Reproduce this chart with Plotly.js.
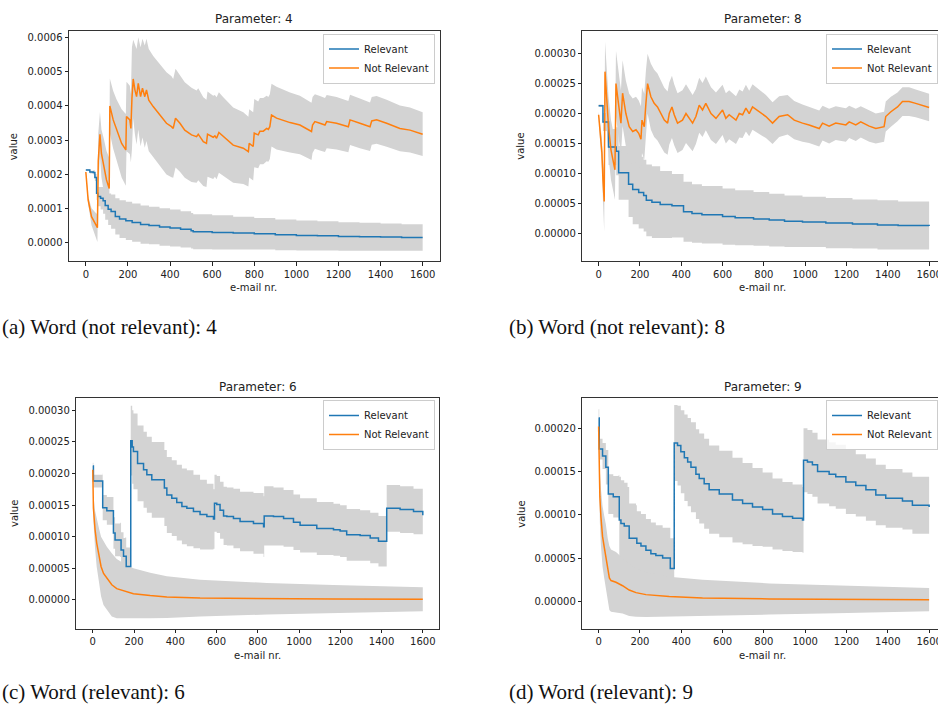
<!DOCTYPE html>
<html>
<head>
<meta charset="utf-8">
<script src="https://cdn.plot.ly/plotly-3.0.1.min.js"></script>
<style>html,body{margin:0;padding:0;background:#fff;}#chart{width:938px;height:705px;}</style>
</head>
<body>
<div id="chart"></div>
<script>
// All y values are in units of 1e-4
const UNIT = 1e-4;
const seriesNames = ["Relevant", "Not Relevant"];
const panelTitles = ["Parameter: 4", "Parameter: 8", "Parameter: 6", "Parameter: 9"];
const captions = ["(a) Word (not relevant): 4", "(b) Word (not relevant): 8", "(c) Word (relevant): 6", "(d) Word (relevant): 9"];
const xTickVals = [0, 200, 400, 600, 800, 1000, 1200, 1400, 1600];

// ---- Panel (a) Parameter 4 ----
const a_rel_x = [0, 19, 35, 43, 51, 57, 70, 82, 92, 106, 120, 140, 160, 190, 220, 260, 300, 350, 400, 450, 500, 510, 600, 700, 800, 900, 1000, 1100, 1200, 1300, 1400, 1500, 1600];
const a_rel_y = [2.12, 2.06, 2.05, 1.90, 1.44, 1.34, 1.29, 1.22, 1.08, 0.97, 0.90, 0.76, 0.68, 0.63, 0.58, 0.52, 0.49, 0.45, 0.42, 0.38, 0.34, 0.31, 0.29, 0.27, 0.25, 0.22, 0.20, 0.19, 0.17, 0.16, 0.155, 0.14, 0.14];
const a_rel_sd = [0.02, 0.04, 0.06, 0.1, 0.2, 0.28, 0.33, 0.38, 0.42, 0.46, 0.5, 0.53, 0.55, 0.56, 0.56, 0.56, 0.55, 0.55, 0.54, 0.53, 0.52, 0.51, 0.5, 0.48, 0.46, 0.45, 0.44, 0.43, 0.42, 0.41, 0.40, 0.39, 0.39];
const a_nr_x = [0, 11, 27, 51, 55, 59, 67, 74, 86, 98, 111, 114, 130, 146, 170, 190, 193, 209, 214, 219, 225, 233, 241, 249, 260, 269, 280, 288, 299, 320, 352, 383, 407, 415, 426, 447, 470, 502, 526, 534, 558, 573, 578, 605, 613, 621, 632, 653, 700, 748, 772, 776, 795, 800, 819, 827, 843, 859, 867, 874, 882, 906, 938, 970, 1017, 1072, 1077, 1088, 1112, 1136, 1144, 1191, 1247, 1255, 1302, 1350, 1358, 1381, 1429, 1492, 1540, 1600];
const a_nr_y = [2.06, 1.24, 0.75, 0.46, 0.43, 2.39, 3.17, 2.61, 2.22, 1.83, 1.58, 4.00, 3.59, 3.29, 2.90, 2.71, 3.69, 3.59, 3.34, 4.22, 4.79, 4.47, 4.27, 4.66, 4.27, 4.52, 4.27, 4.47, 4.17, 3.98, 3.73, 3.49, 3.39, 3.34, 3.64, 3.49, 3.29, 3.15, 3.10, 3.17, 2.95, 2.90, 3.17, 3.08, 3.12, 3.05, 3.22, 3.10, 2.85, 2.76, 2.66, 2.90, 2.81, 3.20, 3.15, 3.26, 3.26, 3.34, 3.31, 3.39, 3.73, 3.64, 3.57, 3.51, 3.44, 3.25, 3.44, 3.54, 3.49, 3.44, 3.54, 3.49, 3.39, 3.59, 3.49, 3.39, 3.56, 3.59, 3.49, 3.34, 3.29, 3.17];
const a_nr_sd = [0.05, 0.12, 0.25, 0.38, 0.42, 0.8, 0.65, 0.7, 0.8, 0.85, 0.9, 0.8, 0.85, 0.9, 1.0, 1.05, 1.02, 1.0, 1.0, 1.5, 1.15, 1.3, 1.4, 1.35, 1.45, 1.45, 1.5, 1.5, 1.5, 1.48, 1.48, 1.5, 1.48, 1.45, 1.45, 1.42, 1.4, 1.38, 1.35, 1.35, 1.3, 1.28, 1.25, 1.22, 1.2, 1.2, 1.18, 1.15, 1.1, 1.05, 1.02, 1.0, 1.0, 1.0, 0.98, 0.97, 0.97, 0.96, 0.95, 0.95, 0.92, 0.92, 0.9, 0.88, 0.86, 0.84, 0.82, 0.8, 0.8, 0.79, 0.78, 0.77, 0.75, 0.74, 0.73, 0.71, 0.7, 0.7, 0.69, 0.67, 0.66, 0.64];

// ---- Panel (b) Parameter 8 ----
const b_rel_x = [0, 21, 48, 85, 97, 145, 165, 194, 218, 231, 258, 298, 355, 411, 452, 500, 600, 661, 750, 826, 900, 987, 1100, 1229, 1350, 1450, 1600];
const b_rel_y = [2.13, 1.86, 1.44, 1.37, 1.01, 0.82, 0.73, 0.68, 0.63, 0.55, 0.52, 0.48, 0.46, 0.36, 0.33, 0.31, 0.28, 0.26, 0.24, 0.22, 0.20, 0.19, 0.17, 0.156, 0.14, 0.13, 0.12];
const b_rel_sd = [0.02, 0.15, 0.3, 0.4, 0.45, 0.55, 0.58, 0.6, 0.6, 0.6, 0.6, 0.56, 0.53, 0.5, 0.49, 0.48, 0.47, 0.46, 0.45, 0.44, 0.43, 0.42, 0.42, 0.41, 0.41, 0.40, 0.40];
const b_nr_x = [0, 8, 16, 21, 24, 27, 31, 39, 48, 60, 68, 79, 84, 92, 100, 108, 116, 132, 148, 165, 181, 194, 205, 210, 221, 229, 237, 253, 269, 285, 302, 318, 334, 342, 355, 366, 382, 406, 423, 439, 455, 471, 487, 503, 519, 544, 568, 600, 616, 632, 665, 681, 697, 713, 729, 745, 777, 810, 842, 874, 915, 947, 987, 1019, 1068, 1084, 1116, 1148, 1197, 1213, 1245, 1269, 1310, 1342, 1382, 1390, 1415, 1447, 1471, 1503, 1535, 1568, 1600];
const b_nr_y = [1.98, 1.67, 1.34, 0.89, 0.61, 0.53, 2.70, 2.23, 1.78, 1.39, 1.22, 1.06, 2.50, 2.23, 2.06, 1.84, 2.34, 2.0, 1.78, 1.70, 1.73, 1.67, 1.57, 1.89, 1.78, 2.17, 2.50, 2.28, 2.17, 2.11, 2.0, 1.89, 1.84, 2.0, 2.11, 1.98, 1.84, 1.89, 2.0, 1.92, 1.84, 1.95, 2.14, 2.06, 2.17, 2.0, 1.92, 2.06, 1.92, 1.98, 1.89, 2.0, 1.98, 2.09, 2.0, 2.11, 2.03, 1.95, 1.84, 1.95, 1.98, 1.89, 1.84, 1.81, 1.75, 1.84, 1.79, 1.84, 1.81, 1.86, 1.81, 1.86, 1.79, 1.75, 1.78, 1.95, 2.03, 2.11, 2.20, 2.20, 2.17, 2.13, 2.10];
const b_nr_sd = [0.05, 0.15, 0.25, 0.35, 0.45, 0.5, 0.5, 0.5, 0.5, 0.5, 0.5, 0.5, 0.55, 0.55, 0.55, 0.55, 0.55, 0.55, 0.55, 0.55, 0.55, 0.55, 0.55, 0.55, 0.55, 0.55, 0.5, 0.55, 0.56, 0.56, 0.55, 0.54, 0.53, 0.52, 0.52, 0.51, 0.5, 0.5, 0.49, 0.48, 0.47, 0.46, 0.46, 0.45, 0.45, 0.44, 0.43, 0.42, 0.42, 0.41, 0.4, 0.4, 0.39, 0.39, 0.38, 0.38, 0.37, 0.36, 0.35, 0.34, 0.33, 0.32, 0.31, 0.3, 0.3, 0.29, 0.29, 0.28, 0.28, 0.27, 0.27, 0.26, 0.26, 0.25, 0.25, 0.25, 0.25, 0.24, 0.24, 0.24, 0.23, 0.23, 0.23];

// ---- Panel (c) Parameter 6 ----
const c_rel_x = [0, 3, 47, 48, 65, 68, 97, 100, 108, 133, 137, 149, 157, 162, 181, 184, 191, 197, 213, 217, 242, 246, 262, 286, 343, 347, 359, 383, 407, 432, 456, 488, 520, 553, 585, 590, 601, 617, 634, 650, 682, 714, 779, 828, 831, 876, 925, 973, 1005, 1086, 1167, 1199, 1231, 1296, 1345, 1385, 1421, 1425, 1490, 1555, 1600];
const c_rel_y = [2.12, 1.88, 1.88, 1.46, 1.46, 1.41, 1.41, 1.06, 0.95, 0.95, 0.79, 0.69, 0.69, 0.53, 0.53, 2.52, 2.42, 2.35, 2.35, 2.16, 2.16, 2.06, 1.98, 1.90, 1.90, 1.77, 1.66, 1.61, 1.54, 1.48, 1.45, 1.40, 1.35, 1.32, 1.28, 1.53, 1.51, 1.42, 1.33, 1.32, 1.29, 1.24, 1.21, 1.16, 1.33, 1.32, 1.29, 1.23, 1.18, 1.13, 1.11, 1.09, 1.03, 1.02, 0.98, 0.93, 0.93, 1.45, 1.43, 1.40, 1.34];
const c_rel_sd = [0.05, 0.1, 0.12, 0.2, 0.2, 0.22, 0.22, 0.25, 0.26, 0.27, 0.28, 0.29, 0.3, 0.3, 0.3, 0.55, 0.58, 0.6, 0.6, 0.6, 0.6, 0.6, 0.6, 0.6, 0.6, 0.6, 0.6, 0.6, 0.6, 0.6, 0.6, 0.58, 0.55, 0.52, 0.47, 0.45, 0.45, 0.45, 0.46, 0.46, 0.47, 0.47, 0.48, 0.48, 0.47, 0.46, 0.45, 0.44, 0.43, 0.42, 0.41, 0.41, 0.41, 0.40, 0.40, 0.40, 0.40, 0.37, 0.37, 0.36, 0.36];
const c_nr_x = [0, 3, 11, 19, 31, 40, 52, 68, 92, 116, 165, 197, 278, 359, 520, 844, 1167, 1600];
const c_nr_y = [2.06, 1.45, 1.11, 0.90, 0.69, 0.53, 0.42, 0.34, 0.24, 0.18, 0.13, 0.10, 0.07, 0.047, 0.03, 0.02, 0.016, 0.01];
const c_nr_sd = [0.05, 0.2, 0.3, 0.38, 0.43, 0.47, 0.5, 0.5, 0.5, 0.47, 0.42, 0.4, 0.36, 0.33, 0.29, 0.25, 0.22, 0.19];

// ---- Panel (d) Parameter 9 ----
const d_rel_x = [0, 3, 16, 19, 32, 35, 44, 47, 68, 71, 97, 100, 108, 124, 140, 148, 181, 185, 205, 229, 253, 277, 310, 342, 347, 361, 366, 382, 398, 415, 431, 447, 471, 487, 511, 535, 584, 648, 697, 745, 794, 842, 890, 939, 987, 992, 1011, 1035, 1060, 1116, 1148, 1197, 1245, 1294, 1342, 1390, 1471, 1519, 1600];
const d_rel_y = [2.12, 1.76, 1.76, 1.68, 1.68, 1.55, 1.55, 1.24, 1.24, 1.21, 1.21, 0.94, 0.90, 0.87, 0.87, 0.73, 0.73, 0.67, 0.64, 0.59, 0.55, 0.53, 0.50, 0.50, 0.38, 0.38, 1.83, 1.80, 1.73, 1.66, 1.61, 1.55, 1.47, 1.42, 1.36, 1.29, 1.24, 1.17, 1.13, 1.09, 1.06, 1.01, 0.98, 0.96, 0.94, 1.63, 1.61, 1.58, 1.50, 1.47, 1.44, 1.38, 1.34, 1.29, 1.23, 1.19, 1.16, 1.11, 1.09];
const d_rel_sd = [0.1, 0.12, 0.12, 0.15, 0.15, 0.2, 0.2, 0.23, 0.23, 0.24, 0.25, 0.5, 0.5, 0.5, 0.45, 0.4, 0.38, 0.37, 0.37, 0.36, 0.36, 0.35, 0.35, 0.35, 0.35, 0.35, 0.44, 0.46, 0.48, 0.5, 0.51, 0.52, 0.52, 0.52, 0.52, 0.51, 0.5, 0.49, 0.47, 0.45, 0.43, 0.41, 0.4, 0.39, 0.38, 0.37, 0.37, 0.37, 0.37, 0.37, 0.37, 0.37, 0.36, 0.36, 0.35, 0.34, 0.33, 0.33, 0.32];
const d_nr_x = [0, 3, 6, 11, 19, 27, 35, 44, 52, 60, 84, 116, 148, 181, 229, 342, 503, 826, 1148, 1600];
const d_nr_y = [2.02, 1.52, 1.21, 0.98, 0.75, 0.63, 0.52, 0.36, 0.27, 0.24, 0.22, 0.18, 0.13, 0.10, 0.077, 0.054, 0.039, 0.027, 0.023, 0.019];
const d_nr_sd = [0.1, 0.25, 0.3, 0.33, 0.35, 0.36, 0.37, 0.37, 0.37, 0.36, 0.35, 0.32, 0.3, 0.28, 0.26, 0.23, 0.21, 0.18, 0.16, 0.135];

// ---------------- drawing ----------------
const W = 938, H = 705;
const BLUE = "#1f77b4", ORANGE = "#ff7f0e", BAND = "#d3d3d3";
const FONT = "DejaVu Sans";
const px = v => v / W;          // pixel -> paper x
const py = v => 1 - v / H;      // pixel -> paper y

const panels = [
  {rel: [a_rel_x, a_rel_y, a_rel_sd], nr: [a_nr_x, a_nr_y, a_nr_sd]},
  {rel: [b_rel_x, b_rel_y, b_rel_sd], nr: [b_nr_x, b_nr_y, b_nr_sd]},
  {rel: [c_rel_x, c_rel_y, c_rel_sd], nr: [c_nr_x, c_nr_y, c_nr_sd]},
  {rel: [d_rel_x, d_rel_y, d_rel_sd], nr: [d_nr_x, d_nr_y, d_nr_sd]}
];

const traces = [];
panels.forEach((p, i) => {
  const n = i === 0 ? "" : String(i + 1);
  const xa = "x" + n, ya = "y" + n, lg = "legend" + n;
  const bands = [p.rel, p.nr];
  const shapes = ["hv", "linear"];
  bands.forEach((s, k) => {
    const [x, m, sd] = s;
    traces.push({x: x, y: m.map((v, j) => (v - sd[j]) * UNIT), xaxis: xa, yaxis: ya, mode: "lines", legend: lg,
      line: {width: 0, color: BAND, shape: shapes[k]}, showlegend: false, hoverinfo: "skip"});
    traces.push({x: x, y: m.map((v, j) => (v + sd[j]) * UNIT), xaxis: xa, yaxis: ya, mode: "lines", legend: lg,
      line: {width: 0, color: BAND, shape: shapes[k]}, fill: "tonexty", fillcolor: BAND, showlegend: false, hoverinfo: "skip"});
  });
  traces.push({x: p.rel[0], y: p.rel[1].map(v => v * UNIT), xaxis: xa, yaxis: ya, mode: "lines", name: seriesNames[0],
    line: {color: BLUE, width: 1.5, shape: "hv"}, legend: lg});
  traces.push({x: p.nr[0], y: p.nr[1].map(v => v * UNIT), xaxis: xa, yaxis: ya, mode: "lines", name: seriesNames[1],
    line: {color: ORANGE, width: 1.5}, legend: lg});
});

// geometry (pixels) of the four plot areas
const geo = [
  {l: 69, r: 439.5, t: 31, b: 261, xr: [-80, 1680], yr: [-0.0000548, 0.0006196], dt: 0.0001, fmt: ".4f", full: true},
  {l: 582.3, r: 938, t: 31, b: 261, xr: [-79, 1643], yr: [-0.0000463, 0.0003379], dt: 0.00005, fmt: ".5f", full: false},
  {l: 76.3, r: 439.3, t: 397.7, b: 628.7, xr: [-80, 1680], yr: [-0.0000454, 0.0003199], dt: 0.00005, fmt: ".5f", full: true},
  {l: 582.3, r: 938, t: 397.7, b: 628.7, xr: [-79, 1643], yr: [-0.0000317, 0.0002354], dt: 0.00005, fmt: ".5f", full: false}
];

const layout = {
  width: W, height: H, margin: {l: 0, r: 0, t: 0, b: 0, autoexpand: false},
  paper_bgcolor: "#fff", plot_bgcolor: "#fff",
  font: {family: FONT, size: 10, color: "#222"},
  annotations: [], showlegend: true
};

const legendPos = [
  {x: px(435), y: py(33.5), xanchor: "right"},
  {x: px(826), y: py(33.5), xanchor: "left"},
  {x: px(435), y: py(400), xanchor: "right"},
  {x: px(826), y: py(400), xanchor: "left"}
];
const titlePos = [[254, 19], [763, 19], [257.5, 386.7], [763, 386.7]];
const yTitlePos = [[14.3, 147], [520.7, 146], [14, 514], [520.7, 514]];
const xTitlePos = [[253.5, 287], [762.5, 287], [257, 655], [762.5, 655]];
const capPos = [[0, 327], [507, 327], [0, 692], [507, 692]];

geo.forEach((g, i) => {
  const n = i === 0 ? "" : String(i + 1);
  layout["xaxis" + n] = {
    domain: [px(g.l), px(g.r)], range: g.xr, anchor: "y" + n,
    tickmode: "array", tickvals: xTickVals, ticks: "outside", ticklen: 3.5, tickwidth: 1, tickcolor: "#222",
    showline: true, linecolor: "#333", linewidth: 1, mirror: true, ticklabeloverflow: "allow",
    showgrid: false, zeroline: false, tickfont: {family: FONT, size: 10, color: "#222"}
  };
  layout["yaxis" + n] = {
    domain: [py(g.b), py(g.t)], range: g.yr, anchor: "x" + n,
    dtick: g.dt, tick0: 0, tickformat: g.fmt, ticks: "outside", ticklen: 3.5, tickwidth: 1, tickcolor: "#222",
    showline: true, linecolor: "#333", linewidth: 1, mirror: g.full,
    showgrid: false, zeroline: false, tickfont: {family: FONT, size: 10, color: "#222"}
  };
  layout["legend" + n] = {
    x: legendPos[i].x, y: legendPos[i].y, xanchor: legendPos[i].xanchor, yanchor: "top",
    xref: "paper", yref: "paper", traceorder: "normal",
    bgcolor: "rgba(255,255,255,0.8)", bordercolor: "#cccccc", borderwidth: 1,
    font: {family: FONT, size: 10, color: "#222"}, itemwidth: 30, tracegroupgap: 0
  };
  layout.annotations.push({text: panelTitles[i], x: px(titlePos[i][0]), y: py(titlePos[i][1]), xref: "paper", yref: "paper",
    xanchor: "center", yanchor: "middle", showarrow: false, font: {family: FONT, size: 12, color: "#222"}});
  layout.annotations.push({text: "value", x: px(yTitlePos[i][0]), y: py(yTitlePos[i][1]), xref: "paper", yref: "paper",
    xanchor: "center", yanchor: "middle", textangle: -90, showarrow: false, font: {family: FONT, size: 10, color: "#222"}});
  layout.annotations.push({text: "e-mail nr.", x: px(xTitlePos[i][0]), y: py(xTitlePos[i][1]), xref: "paper", yref: "paper",
    xanchor: "center", yanchor: "middle", showarrow: false, font: {family: FONT, size: 10, color: "#222"}});
  layout.annotations.push({text: captions[i], x: px(capPos[i][0]), y: py(capPos[i][1]), xref: "paper", yref: "paper",
    xanchor: "left", yanchor: "middle", showarrow: false, font: {family: "Liberation Serif", size: 21, color: "#111"}});
});

Plotly.newPlot("chart", traces, layout, {staticPlot: true, displayModeBar: false});
</script>
</body>
</html>
